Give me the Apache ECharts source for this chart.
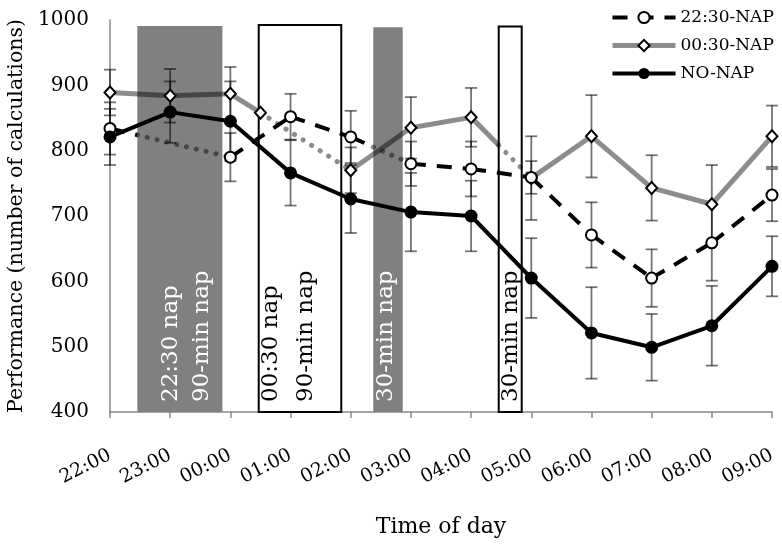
<!DOCTYPE html>
<html><head><meta charset="utf-8">
<script src="https://cdn.jsdelivr.net/npm/echarts@6/dist/echarts.min.js"></script>
<style>html,body{margin:0;padding:0;background:#fff}#chart{width:782px;height:545px}</style>
</head><body><div id="chart"></div>
<script>
// ---- tick labels (x axis in hours since 22:00 of day 1) ----
const tickHours = [22, 23, 24, 25, 26, 27, 28, 29, 30, 31, 32, 33];
const tickLabels = ['22:00', '23:00', '00:00', '01:00', '02:00', '03:00', '04:00', '05:00', '06:00', '07:00', '08:00', '09:00'];

// ---- 22:30-NAP ----
const nap2230Hours = [22, 24, 25, 26, 27, 28, 29, 30, 31, 32, 33];
const nap2230Values = [834, 790, 852, 821, 780, 772, 759, 671, 605, 659, 732];
const nap2230Errors = [40, 37, 35, 40, 34, 42, 25, 50, 44, 58, 40];

// ---- 00:30-NAP ----
const nap0030Hours = [22, 23, 24, 24.5, 26, 27, 28, 29, 30, 31, 32, 33];
const nap0030Values = [889, 884, 887, 858, 770, 835, 851, 758, 822, 743, 718, 822];
const nap0030Errors = [35, 41, 41, null, 35, 47, 45, 64, 63, 50, 60, 47];

// ---- NO-NAP ----
const noNapHours = [22, 23, 24, 25, 26, 27, 28, 29, 30, 31, 32, 33];
const noNapValues = [821, 859, 845, 766, 726, 706, 700, 605, 521, 499, 532, 623];
const noNapErrors = [43, 47, 61, 50, 52, 60, 54, 61, 70, 51, 61, 46];

// ---- nap periods ----
const napStart = [22.454, 24.471, 26.375, 28.459];
const napEnd = [23.868, 25.843, 26.864, 28.841];
const napTop = [991, 992.5, 989, 990];
const napGroup = ['22:30-NAP', '00:30-NAP', '22:30-NAP', '00:30-NAP'];
const napLine1 = ['22:30 nap', '00:30 nap', '30-min nap', '30-min nap'];
const napLine2 = ['90-min nap', '90-min nap', '', ''];

// ---- styles (not data) ----
const FONT = '"DejaVu Serif"';
const napTextOffsets = [[-9, 22.5], [-29, 6], [-1.5], [1]];
const GRAYLINE = 'rgba(0,0,0,0.45)';
const dottedStyle = { stroke: GRAYLINE, lineWidth: 5, lineDash: [0.1, 10], lineCap: 'round', fill: null };
const groupStyles = {
  '22:30-NAP': { stroke: '#000', lineWidth: 4, lineDash: [15, 11], fill: null },
  '00:30-NAP': { stroke: GRAYLINE, lineWidth: 5, fill: null },
  'NO-NAP': { stroke: '#000', lineWidth: 4, fill: null }
};

function pairs(h, v) { return h.map((x, i) => [x, v[i]]); }
function segments(h, v) { const out = []; for (let i = 0; i < h.length - 1; i++) out.push([h[i], v[i], h[i + 1], v[i + 1]]); return out; }
function errItems(h, v, e) { return h.map((x, i) => [x, v[i], e[i]]).filter(d => d[2] != null); }

function segRender(groupName) {
  const main = groupStyles[groupName];
  return function (params, api) {
    const x0 = api.value(0), y0 = api.value(1), x1 = api.value(2), y1 = api.value(3);
    const p0 = api.coord([x0, y0]), p1 = api.coord([x1, y1]);
    let split = null, whole = false;
    for (let k = 0; k < napStart.length; k++) {
      if (napGroup[k] !== groupName) continue;
      if (napStart[k] > x0 && napStart[k] < x1) split = napStart[k];
      else if (napStart[k] <= x0 && napEnd[k] > x0) whole = true;
    }
    const children = [];
    if (whole) {
      children.push({ type: 'line', shape: { x1: p0[0], y1: p0[1], x2: p1[0], y2: p1[1] }, style: Object.assign({}, dottedStyle) });
    } else if (split === null) {
      children.push({ type: 'line', shape: { x1: p0[0], y1: p0[1], x2: p1[0], y2: p1[1] }, style: Object.assign({}, main) });
    } else {
      const sx = api.coord([split, y0])[0];
      const t = (sx - p0[0]) / (p1[0] - p0[0]);
      const sy = p0[1] + t * (p1[1] - p0[1]);
      children.push({ type: 'line', shape: { x1: p0[0], y1: p0[1], x2: sx, y2: sy }, style: Object.assign({}, main) });
      children.push({ type: 'line', shape: { x1: sx, y1: sy, x2: p1[0], y2: p1[1] }, style: Object.assign({}, dottedStyle) });
    }
    return { type: 'group', children };
  };
}

function renderErr(params, api) {
  const x = api.value(0), v = api.value(1), e = api.value(2);
  const top = api.coord([x, v + e]), bot = api.coord([x, v - e]);
  const w = 6;
  const st = () => ({ stroke: 'rgba(0,0,0,0.55)', lineWidth: 1.8 });
  return { type: 'group', children: [
    { type: 'line', shape: { x1: top[0], y1: top[1], x2: bot[0], y2: bot[1] }, style: st() },
    { type: 'line', shape: { x1: top[0] - w, y1: top[1], x2: top[0] + w, y2: top[1] }, style: st() },
    { type: 'line', shape: { x1: bot[0] - w, y1: bot[1], x2: bot[0] + w, y2: bot[1] }, style: st() }
  ] };
}

function renderNap(params, api) {
  const i = params.dataIndex;
  const s = api.value(0), e = api.value(1), t = api.value(2);
  const p0 = api.coord([s, t]), p1 = api.coord([e, 400]);
  const gray = napGroup[i] === '22:30-NAP';
  const children = [{
    type: 'rect',
    shape: { x: p0[0], y: p0[1], width: p1[0] - p0[0], height: p1[1] - p0[1] },
    style: gray ? { fill: '#808080' } : { fill: '#fff', stroke: '#000', lineWidth: 2 }
  }];
  const cx = (p0[0] + p1[0]) / 2;
  [napLine1[i], napLine2[i]].filter(Boolean).forEach((txt, k) => {
    children.push({
      type: 'text', x: cx + napTextOffsets[i][k], y: p1[1] - 10, rotation: Math.PI / 2,
      style: { text: txt, fill: gray ? '#fff' : '#000', font: '23px ' + FONT, align: 'left', verticalAlign: 'middle' }
    });
  });
  return { type: 'group', children };
}

const napData = napStart.map((s, i) => [s, napEnd[i], napTop[i]]);

const chart = echarts.init(document.getElementById('chart'));
chart.setOption({
  animation: false,
  grid: { left: 110, right: 10, top: 20, bottom: 133, containLabel: false, outerBoundsMode: 'none' },
  legend: {
    orient: 'vertical', left: 605, top: 4, itemWidth: 63, itemHeight: 14, itemGap: 11,
    textStyle: { fontFamily: 'DejaVu Serif', fontSize: 17, color: '#000' },
    data: [
      { name: '22:30-NAP', lineStyle: { opacity: 1, color: '#000', width: 4, type: [15, 11] } },
      { name: '00:30-NAP', lineStyle: { opacity: 1, color: '#8c8c8c', width: 5, type: 'solid' } },
      { name: 'NO-NAP', lineStyle: { opacity: 1, color: '#000', width: 4, type: 'solid' } }
    ]
  },
  xAxis: {
    type: 'value', min: 22, max: 33, interval: 1,
    name: 'Time of day', nameLocation: 'middle', nameGap: 104,
    nameTextStyle: { fontFamily: 'DejaVu Serif', fontSize: 22, color: '#000' },
    axisLine: { lineStyle: { color: '#888', width: 1.5 } },
    axisTick: { show: true, length: 6, lineStyle: { color: '#888', width: 1.5 } },
    splitLine: { show: false },
    axisLabel: {
      rotate: 27, margin: 42, fontFamily: 'DejaVu Serif', fontSize: 19, color: '#000',
      formatter: v => tickLabels[tickHours.indexOf(v)]
    }
  },
  yAxis: {
    type: 'value', min: 400, max: 1000, interval: 100,
    name: 'Performance (number of calculations)', nameLocation: 'middle', nameGap: 80,
    nameTextStyle: { fontFamily: 'DejaVu Serif', fontSize: 20.5, color: '#000' },
    axisLine: { show: true, lineStyle: { color: '#888', width: 1.5 } },
    axisTick: { show: false },
    splitLine: { show: false },
    axisLabel: { margin: 21, fontFamily: 'DejaVu Serif', fontSize: 20, color: '#000', formatter: v => String(v) }
  },
  series: [
    { type: 'custom', name: 'naps', data: napData, renderItem: renderNap, encode: { x: [0, 1], y: 2 }, z: 1, silent: true },
    { type: 'custom', name: 'err2230', data: errItems(nap2230Hours, nap2230Values, nap2230Errors), renderItem: renderErr, encode: { x: 0, y: 1 }, z: 2, silent: true },
    { type: 'custom', name: 'err0030', data: errItems(nap0030Hours, nap0030Values, nap0030Errors), renderItem: renderErr, encode: { x: 0, y: 1 }, z: 2, silent: true },
    { type: 'custom', name: 'errNo', data: errItems(noNapHours, noNapValues, noNapErrors), renderItem: renderErr, encode: { x: 0, y: 1 }, z: 2, silent: true },
    { type: 'custom', name: 'seg0030', data: segments(nap0030Hours, nap0030Values), renderItem: segRender('00:30-NAP'), encode: { x: [0, 2], y: [1, 3] }, z: 3, silent: true },
    { type: 'custom', name: 'seg2230', data: segments(nap2230Hours, nap2230Values), renderItem: segRender('22:30-NAP'), encode: { x: [0, 2], y: [1, 3] }, z: 3, silent: true },
    { type: 'custom', name: 'segNo', data: segments(noNapHours, noNapValues), renderItem: segRender('NO-NAP'), encode: { x: [0, 2], y: [1, 3] }, z: 3, silent: true },
    { type: 'line', name: '00:30-NAP', data: pairs(nap0030Hours, nap0030Values), symbol: 'diamond', symbolSize: [11, 12], showAllSymbol: true,
      itemStyle: { color: '#fff', borderColor: '#000', borderWidth: 2 }, lineStyle: { opacity: 0, color: '#8c8c8c', width: 5 }, z: 4 },
    { type: 'line', name: '22:30-NAP', data: pairs(nap2230Hours, nap2230Values), symbol: 'circle', symbolSize: 11, showAllSymbol: true,
      itemStyle: { color: '#fff', borderColor: '#000', borderWidth: 2 }, lineStyle: { opacity: 0, color: '#000', width: 4 }, z: 4 },
    { type: 'line', name: 'NO-NAP', data: pairs(noNapHours, noNapValues), symbol: 'circle', symbolSize: 13, showAllSymbol: true,
      itemStyle: { color: '#000', borderColor: '#000', borderWidth: 0 }, lineStyle: { opacity: 0, color: '#000', width: 4 }, z: 4 }
  ]
});
</script></body></html>
